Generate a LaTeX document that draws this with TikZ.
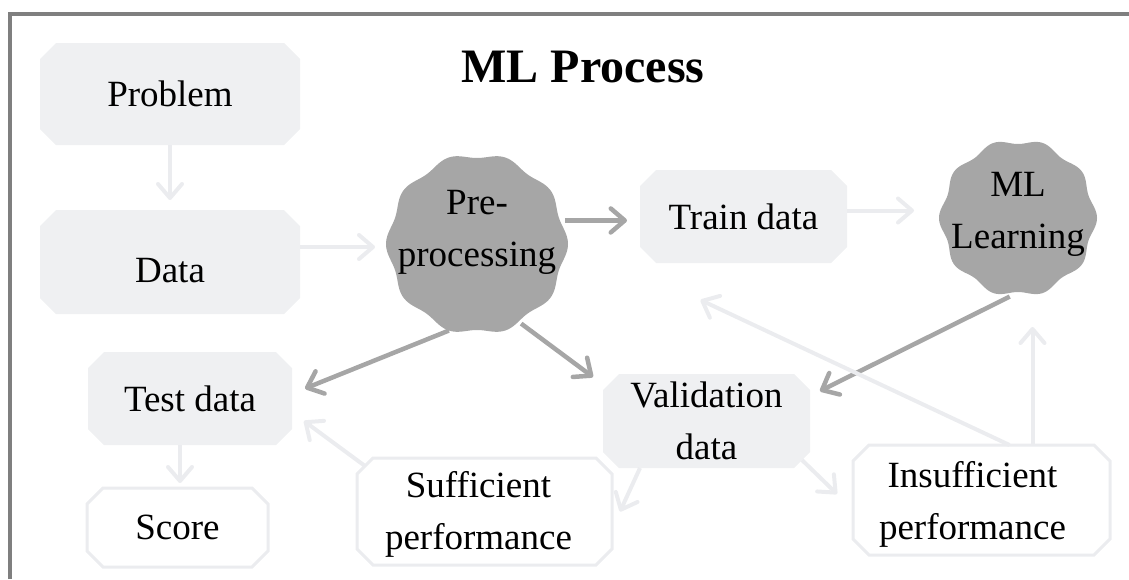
\documentclass[tikz,border=0pt]{standalone}
\usepackage{fontspec}
\setmainfont{Liberation Serif}
\usetikzlibrary{arrows.meta,backgrounds,calc}
\definecolor{framec}{HTML}{7F7F7F}
\definecolor{boxf}{HTML}{EFF0F2}
\definecolor{lightc}{HTML}{EBECEF}
\definecolor{darkc}{HTML}{A6A6A6}
\newcommand\octa[2]{\path[#2] ([xshift=16pt]#1.north west) -- ([xshift=-16pt]#1.north east) -- ([yshift=-16pt]#1.north east) -- ([yshift=16pt]#1.south east) -- ([xshift=-16pt]#1.south east) -- ([xshift=16pt]#1.south west) -- ([yshift=16pt]#1.south west) -- ([yshift=-16pt]#1.north west) -- cycle;}
\begin{document}
\begin{tikzpicture}[x=1pt,y=-1pt,
  txt/.style={font=\fontsize{37}{52}\selectfont, align=center, inner sep=0pt},
  box/.style 2 args={rectangle, inner sep=0pt, outer sep=0pt, minimum width=#1, minimum height=#2, txt},
  blob/.style={circle, minimum size=#1, inner sep=0pt, outer sep=0pt},
  tipb/.style={-{Straight Barb[length=14pt,width=24pt,round]}},
  lightarr/.style={draw=lightc, line width=4pt, tipb},
  darkarr/.style={draw=darkc, line width=4.5pt, tipb},
  grayfill/.style={fill=boxf},
  whitebox/.style={fill=white, draw=lightc, line width=3pt},
]
\useasboundingbox (0,0) rectangle (1129,579);
\draw[framec, line width=4pt] (10,579) -- (10,14) -- (1129,14);
\node[txt, font=\bfseries\fontsize{48}{56}\selectfont] (title) at (583,67) {ML Process};
% boxes
\node[box={260pt}{102pt}] (problem) at (170,94) {Problem};
\node[box={260pt}{104pt}, label={[txt,yshift=-9pt]center:Data}] (data) at (170,262) {};
\node[box={207pt}{93pt}] (train) at (743.5,216.5) {Train data};
\node[box={204pt}{93pt}] (test) at (190,398.5) {Test data};
\node[box={207pt}{94pt}] (val) at (706.5,421) {Validation\\data};
\node[box={181pt}{79pt}] (score) at (177.5,527.5) {Score};
\node[box={255pt}{107pt}, label={[txt,xshift=-6pt,yshift=-3pt]center:Sufficient\\performance}] (suff) at (484.5,511.5) {};
\node[box={257pt}{110pt}, label={[txt,xshift=-9pt,yshift=-4pt]center:Insufficient\\performance}] (insuff) at (981.5,500) {};
% blobs
\node[blob=182pt] (pre) at (477,244) {};
\node[blob=158pt] (ml) at (1018,218) {};
\fill[darkc, shift={(pre.center)}] plot[domain=0:360,samples=241,variable=\t] ({(88.5+2.5*cos(10*\t))*cos(\t)},{(88.5+2.5*cos(10*\t))*sin(\t)}) -- cycle;
\fill[darkc, shift={(ml.center)}] plot[domain=0:360,samples=241,variable=\t] ({(76.5+2.5*cos(10*\t))*cos(\t)},{(76.5+2.5*cos(10*\t))*sin(\t)}) -- cycle;
\node[txt] (pret) at (477,232) {Pre-\\processing};
\node[txt] (mlt) at (1018,214) {ML\\Learning};
\begin{scope}[on background layer]
\octa{problem}{grayfill}
\octa{data}{grayfill}
\octa{train}{grayfill}
\octa{test}{grayfill}
\octa{val}{grayfill}
\octa{score}{whitebox}
\octa{suff}{whitebox}
\octa{insuff}{whitebox}
\end{scope}
% connectors
\draw[lightarr, shorten >=10pt] (problem.south) -- (data.north);
\draw[lightarr, shorten >=11pt] ([yshift=15pt]data.east) -- ([yshift=15pt]data.east -| pre.west);
\draw[darkarr, shorten >=13pt] (pre.15) -- (pre.15 -| train.west);
\draw[lightarr, shorten >=25pt] ([yshift=6pt]train.east) -- ([yshift=6pt]train.east -| ml.west);
\draw[darkarr] (pre.252) -- ([xshift=13pt,yshift=10pt]test.east);
\draw[darkarr] (pre.-61) -- ([xshift=-10pt,yshift=-3pt]val.north west);
\draw[darkarr] (ml.-96) -- ([xshift=10pt,yshift=-17pt]val.north east);
\draw[lightarr, shorten >=5pt] ([xshift=-10pt]test.south) -- ([xshift=-10pt]test.south |- score.north);
\draw[lightarr] ([xshift=37pt]val.south west) -- ([xshift=8pt]suff.east);
\draw[lightarr] ([xshift=8pt,yshift=-8pt]suff.north west) -- ([xshift=12pt,yshift=24pt]test.south east);
\draw[lightarr] ([xshift=-8pt,yshift=8pt]val.south east) -- ([xshift=-16pt,yshift=6pt]insuff.west);
\draw[lightarr, shorten >=30pt] ([xshift=51pt]insuff.north) -- ([xshift=51pt]insuff.north |- ml.south);
\draw[lightarr] ([xshift=28pt]insuff.north) -- ([xshift=-43pt,yshift=-37pt]train.south);
\end{tikzpicture}
\end{document}
